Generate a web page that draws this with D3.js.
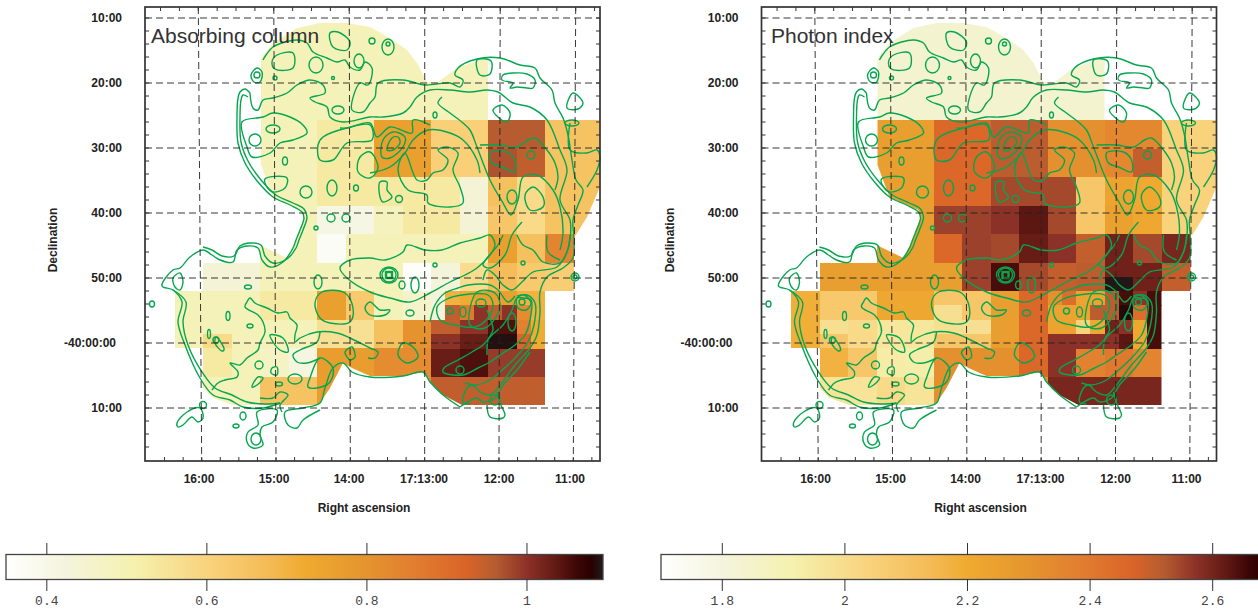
<!DOCTYPE html>
<html><head><meta charset="utf-8">
<script src="https://cdn.jsdelivr.net/npm/d3@7/dist/d3.min.js"></script>
<style>html,body{margin:0;padding:0;background:#fff}svg{display:block}</style>
</head><body>
<svg id="c" width="1258" height="610"></svg>
<script>
const n = null;
const panelTitles = ["Absorbing column", "Photon index"];
const raLabels = ["16:00","15:00","14:00","17:13:00","12:00","11:00"];
const raMinutes = [16,15,14,13,12,11];
const decLabels = ["10:00","20:00","30:00","40:00","50:00","-40:00:00","10:00"];
const decArcmin = [10,20,30,40,50,60,70];
const cbTicksA = [0.4,0.6,0.8,1];
const cbTicksB = [1.8,2,2.2,2.4,2.6];
const cmapFrac = [0,.1,.215,.34,.44,.5,.58,.68,.77,.82,.87,.92,.96,.98,1];
const cmapCol = ["#ffffff","#f4f4de","#f5f1ae","#f9d27c","#f4bb55","#f0aa30","#e69a2e","#e27f30","#da6428","#b55c30","#8f3328","#621a14","#3a0505","#2a0000","#201a1a"];

// coarse maps: 15 columns x 14 rows; a pair = upper and lower half of a cell
const absorbing = [
[n,n,n,.49,.49,.49,.49,.49,.49,.49,.49,n,n,n,n],
[n,n,n,.49,.49,.49,.49,.49,.49,.49,.49,n,n,n,n],
[n,n,n,.49,.49,.49,.49,.49,.49,.49,.49,n,n,n,n],
[n,n,n,.49,.49,.49,.49,.49,.49,.49,.49,n,n,n,n],
[n,n,n,.49,.49,.53,.53,.76,.76,.61,.61,.96,.96,.65,.65],
[n,n,n,.49,.49,.53,.53,.76,.76,.61,.61,.97,.95,.65,.65],
[n,n,n,.49,.49,.53,.53,.53,.53,.53,.44,.66,.58,.65,.65],
[n,n,n,.49,.49,.41,.41,.48,.53,.53,.44,.64,.58,.65,.65],
[n,n,n,.49,.49,.37,.49,.49,.49,.49,.49,.76,.66,.84,.65],
[n,.44,.44,.49,.49,.49,.49,.49,.36,.43,.57,.67,.63,.62,n],
[.49,.49,.49,.53,.53,.76,.63,.49,.46,n,n,n,n,n,n],
[.49,[.49,.58],.49,.49,.49,.56,.56,.66,.8,n,n,n,n,n,n],
[n,.53,.49,.47,.42,.77,.77,.82,.82,1.03,1.05,.99,.99,n,n],
[n,.49,.49,.65,.65,.77,.77,.82,.82,.95,.95,.95,.95,n,n]];
const photon = [
[n,n,n,1.83,1.83,1.83,1.83,1.83,1.83,1.83,1.83,n,n,n,n],
[n,n,n,1.83,1.83,1.83,1.83,1.83,1.83,1.83,1.83,n,n,n,n],
[n,n,n,1.83,1.83,1.83,1.83,1.83,1.83,1.83,1.83,n,n,n,n],
[n,n,n,1.83,1.83,1.83,1.83,1.83,1.83,1.83,1.83,n,n,n,n],
[n,n,n,2.24,2.24,2.44,2.44,2.49,2.49,2.3,2.3,2.33,2.33,2.03,2.03],
[n,n,n,2.24,2.24,2.44,2.44,2.49,2.49,2.3,2.3,2.33,2.48,2.03,2.03],
[n,n,n,2.24,2.24,2.44,2.44,2.52,2.52,2.52,2.08,2.22,2.19,2.03,2.03],
[n,n,n,2.24,2.24,2.53,2.53,2.55,2.6,2.52,2.08,2.23,2.2,2.03,2.03],
[n,n,n,2.24,2.24,2.44,2.53,2.52,2.59,2.55,2.48,2.58,2.52,2.57,n],
[n,2.24,2.24,2.24,2.24,2.24,2.53,2.62,2.52,2.48,2.49,[2.58,2.67],2.58,2.48,n],
[2.17,2.07,2.07,2.2,2.2,[2.08,1.98],2.08,2.24,2.44,n,n,n,n,n,n],
[2.17,[1.98,2.08],2.0,1.95,1.95,[1.98,2.08],[1.98,2.08],2.24,2.44,n,n,n,n,n,n],
[n,2.16,2.08,1.93,1.92,2.3,2.3,2.3,2.44,2.55,2.35,2.38,2.34,n,n],
[n,1.96,1.96,2.0,1.96,2.3,2.3,2.3,2.3,2.57,2.57,2.57,2.57,n,n]];
// finer binning near the bright southern knot: 8 columns x 4 rows
const absorbingFine = [
[.43,.7,.72,.76,.76,.76,.7,.7],
[.43,.95,.87,1.0,.95,1.0,.82,.7],
[.95,.95,1.0,1.0,1.05,1.05,.85,.72],
[1.0,1.0,1.03,1.03,1.09,1.09,.92,.72]];
const photonFine = [
[2.3,2.42,2.22,2.22,2.49,2.62,2.55,2.62],
[2.22,2.22,2.22,2.49,2.49,2.66,2.42,2.62],
[2.22,2.22,2.03,2.2,2.58,2.55,2.2,2.62],
[2.55,2.55,2.55,2.55,2.55,2.6,2.2,2.62]];

// sky footprint and radio contours in mosaic pixel coordinates
const footprint = [[261,58],[273,43],[297,28],[320,23],[347,23],[370,27],[390,38],[407,50],[417,63],[427,82],[438,82],[457,68],[480,60],[488,60],[488,120],[600,120],[600,187],[587,217],[574,238],[574,291],[545,291],[545,405],[462,405],[443,395],[430,382],[424,372],[403,376],[370,376],[352,368],[343,363],[330,388],[320,403],[315,405],[233,405],[213,398],[203,388],[203,348],[174.5,348],[174.5,291],[203,291],[203,262.5],[260,262.5],[260,245],[287,258],[296,240],[304,218],[302,210],[273,197],[261,165]];
const openContours = [
[[250,93],[245,89],[240,92],[238,98],[237,117],[238,143],[245,163],[258,182],[273,197],[290,205],[302,212],[304,218],[300,230],[296,240],[293,248],[283,262],[270,267],[262,260],[258,248],[247,246],[237,250],[233,262],[220,260],[212,255],[203,250],[190,257],[180,268],[173,270],[162,286],[173,290],[182,302],[178,322],[185,345],[200,378],[213,395],[230,400],[243,407],[263,408],[280,403]],
[[248,97],[243,95],[241,100],[240,117],[241,142],[248,161],[261,180],[276,195],[293,203],[304,209],[307,217],[303,230],[299,240],[296,248],[287,259],[273,263],[265,256],[261,245],[250,243],[240,246],[234,256],[222,256],[212,250],[203,247]],
[[173,290],[186,302],[183,322],[188,345],[202,372],[215,388],[232,395],[247,402],[265,404],[280,403]],
[[250,93],[253,108],[258,110],[263,100],[273,98],[287,93],[297,85],[310,80],[323,85],[325,93],[310,98],[315,102],[327,107],[330,117],[343,122],[370,117],[383,117],[403,113],[410,107],[417,97],[430,90],[450,90],[470,92],[487,90],[498,92],[513,103],[530,107],[547,120],[560,150],[567,170],[560,200],[570,220],[570,240],[567,252],[560,263],[543,262],[533,250],[523,245],[517,235]],
[[263,60],[266,55],[273,47],[285,42],[297,40],[307,43],[313,52],[327,58],[337,62],[345,60],[350,67],[360,70],[365,62],[372,68],[368,85],[360,83],[352,110],[363,112],[370,103],[375,97],[378,83],[403,80],[425,85],[450,83],[460,87],[463,80],[455,75],[458,68],[477,59],[500,58],[520,65],[535,68],[540,78],[552,90],[555,103],[563,118],[568,135],[572,160],[576,180],[583,190],[578,205],[573,220],[574,240],[573,258],[563,268],[547,277],[540,292],[540,312],[537,335],[530,348],[515,365],[500,385],[490,395],[480,392],[472,385],[467,388],[463,402],[470,404]],
[[442,97],[438,103],[450,113],[463,123],[470,130],[477,147],[490,180],[503,203],[511,215],[518,200],[523,177],[537,175],[553,190],[560,207],[563,233],[560,250]],
[[480,145],[500,145],[517,147],[528,140],[535,138],[547,150],[555,163],[558,177],[555,190]],
[[570,123],[570,150],[587,153],[597,150],[600,157],[597,170],[587,187]],
[[460,407],[443,395],[430,382],[423,372],[403,376],[370,377],[352,372],[343,363],[333,368],[325,388],[320,403],[303,408],[285,412],[288,425],[297,428],[303,420],[320,410]],
[[260,398],[273,398],[280,392],[288,395],[280,405],[282,412]],
[[460,407],[477,398],[483,402],[495,398],[503,385],[517,370],[530,352]],
[[497,392],[500,403],[505,415],[503,418],[490,417],[487,405]],
[[247,302],[250,298],[255,303],[267,308],[278,313],[287,312],[290,318],[297,325],[295,335],[295,342],[300,338],[317,332],[337,333],[350,338],[370,348],[378,352],[375,358],[368,358]],
[[247,302],[245,307],[258,315],[263,322],[265,332],[260,343],[258,350],[247,358],[240,365],[230,363],[238,372],[237,377],[225,380],[218,383],[212,390]],
[[320,332],[317,342],[300,350],[293,355],[297,362],[307,363],[320,358]],
[[503,235],[498,245],[483,265],[490,268],[505,255],[512,235],[522,222]],
[[547,235],[548,252],[560,260]],
[[523,298],[531,300],[530,320],[525,335],[515,345],[500,355],[490,362],[478,368],[463,375],[443,372],[444,368],[458,360],[472,352],[483,345],[492,335],[503,325],[512,310],[517,298],[523,298]],
[[517,296],[527,295],[535,303],[534,325],[528,342],[515,358],[500,372],[490,380],[475,385],[465,383]],
[[483,280],[487,270],[495,275],[503,285],[512,290],[522,282],[533,272],[557,267],[567,252],[570,235]],
[[430,322],[435,305],[445,293],[458,288],[468,285],[490,285],[498,290],[508,302],[515,296]],
[[487,355],[488,340],[493,330],[490,318],[487,310]],
[[340,128],[347,128],[370,123],[377,137],[390,127],[412,133],[413,120],[430,125]],
[[370,173],[390,167],[405,153],[413,140],[428,130],[450,133],[463,140],[477,160],[480,173]]
];
const closedContours = [
[[242,122],[263,117],[273,113],[290,117],[303,125],[307,133],[293,140],[280,143],[270,153],[252,157],[247,147]],
[[277,55],[293,53],[293,68],[275,69],[272,62]],
[[330,33],[338,32],[350,42],[347,50],[333,47]],
[[251,75],[257,68],[262,72],[260,82],[254,82]],
[[265,179],[287,178],[285,188],[273,192],[267,187]],
[[318,145],[323,137],[347,128],[370,125],[372,140],[347,143],[333,160],[320,160]],
[[358,172],[370,178],[378,168],[370,152],[360,157]],
[[382,157],[383,140],[393,132],[405,137],[403,147],[390,158]],
[[387,150],[392,138],[398,137],[400,143],[393,150]],
[[380,182],[387,182],[387,190],[392,197],[383,202],[380,197]],
[[408,190],[427,195],[428,203],[450,207],[463,203],[460,187],[453,170],[458,153],[447,147],[438,150],[448,160],[443,170],[433,173],[427,180],[417,180],[405,153],[398,170]],
[[490,153],[507,152],[515,160],[515,172],[502,167],[492,163]],
[[525,195],[533,187],[543,197],[543,207],[530,210]],
[[493,110],[502,105],[510,113],[507,122],[498,117]],
[[567,108],[573,93],[583,103],[578,109]],
[[503,75],[502,80],[513,83],[510,88],[517,87],[527,88],[533,88],[535,80],[527,74],[513,73]],
[[477,60],[491,61],[490,74],[480,75]],
[[173,278],[180,273],[183,282],[180,290],[175,287]],
[[216,337],[220,341],[224,350],[222,351],[215,343]],
[[270,335],[283,338],[288,352],[280,350],[273,342]],
[[320,358],[333,368],[330,382],[317,388],[308,387],[310,378]],
[[271,373],[272,368],[277,367],[277,375]],
[[252,387],[258,377],[263,378],[257,385]],
[[257,412],[277,410],[273,422],[262,427],[260,435],[263,445],[253,448],[247,442],[248,432],[258,425]],
[[177,423],[187,412],[200,408],[203,418],[198,422],[192,417],[183,425],[178,427]],
[[315,303],[322,292],[345,293],[353,308],[350,322],[330,323],[320,318]],
[[345,352],[352,347],[355,357],[350,360],[347,357]],
[[398,355],[403,343],[413,347],[418,357],[407,363]],
[[340,268],[350,260],[370,258],[385,260],[403,252],[407,245],[425,250],[442,250],[460,243],[480,238],[490,235],[495,245],[490,255],[477,268],[465,275],[450,282],[430,293],[410,302],[390,298],[370,292],[347,278]],
[[370,302],[380,310],[390,310],[385,315],[370,315],[365,308]],
[[437,307],[447,299],[462,295],[488,295],[493,305],[488,318],[475,327],[455,325],[440,320]],
[[517,298],[524,295],[531,303],[526,310],[518,308]],
[[477,292],[495,293],[500,308],[485,328],[470,325]]
];
// small isolated contours: centre x, centre y, half width, half height
const knots = [[255,140,6,6],[273,129,7,4],[316,65,7,8],[359,61,5,7],[257,75,3,3],[275,78,2,2],[333,78,1.5,1.5],[338,110,6,4],[285,161,2.5,4],[306,192,6,6],[332,188,5,8],[356,188,2.5,3],[331,218,4,4],[346,218,4,4],[316,228,2,2],
[372,41,3,3],[388,47,6,8],[388,44,2,2],[399,199,3.5,3.5],[435,115,2,3],[531,155,4,4],[512,197,5,7],[575,277,4,4],[575,277,2,2],[572,123,7,3],
[152,304,2.5,3],[248,287,3.5,2],[228,316,2,4.5],[250,326,3,2],[209,334,1.5,4.5],[216,340,3,3],[259,365,4,4],[279,384,3.5,2],[295,379,7,5],[256,439,5,6],[243,416,3,4],[236,426,3,2],[203,405,3.5,3.5],[318,282,4,7],
[435,265,2,2],[402,285,3,4],[415,285,4,8],[410,313,4,3],[450,311,3,3],[463,312,3,5],[481,303,5,4],[522,302,3,3],[512,322,4,9],[495,400,5,5],[523,263,2,2],[460,370,4,4],
[389,275,7,7],[389,275,9,8]];
const gridDash = "7 4";

const svg = d3.select("#c");
const cmap = d3.scaleLinear().domain(cmapFrac).range(cmapCol).interpolate(d3.interpolateRgb).clamp(true);
const frame = {l:145,t:7,r:600,b:461};
const lineOpen = d3.line().curve(d3.curveCatmullRom.alpha(.5));
const lineClosed = d3.line().curve(d3.curveCatmullRomClosed.alpha(.5));
const polygon = d3.line();

function drawPanel(i, dx, coarse, fine, vmin, vmax, titleX){
  const g = svg.append("g").attr("transform",`translate(${dx},0)`);
  const mx = d3.scaleLinear().domain([145,600]).range([145,600]);
  const my = d3.scaleLinear().domain([7,461]).range([7,461]);
  const colX = d3.scaleLinear().domain([0,15]).range([174.5,602]);
  const rowY = d3.scaleLinear().domain([0,14]).range([6,405]);
  const fineX = d3.scaleLinear().domain([0,8]).range([431,545]);
  const fineY = d3.scaleLinear().domain([0,4]).range([291,348]);
  const color = v => cmap((v-vmin)/(vmax-vmin));
  const cid = "fp"+i;
  g.append("clipPath").attr("id",cid).append("path")
    .attr("d",polygon.x(d=>mx(d[0])).y(d=>my(d[1]))(footprint)+"Z");
  const heat = g.append("g").attr("clip-path",`url(#${cid})`).attr("shape-rendering","crispEdges");
  const cells=[];
  coarse.forEach((row,r)=>row.forEach((v,c)=>{
    if(v===null) return;
    if(Array.isArray(v)){
      cells.push({x0:colX(c),x1:colX(c+1),y0:rowY(r),y1:rowY(r+.5),v:v[0]});
      cells.push({x0:colX(c),x1:colX(c+1),y0:rowY(r+.5),y1:rowY(r+1),v:v[1]});
    } else cells.push({x0:colX(c),x1:colX(c+1),y0:rowY(r),y1:rowY(r+1),v});
  }));
  fine.forEach((row,r)=>row.forEach((v,c)=>cells.push({x0:fineX(c),x1:fineX(c+1),y0:fineY(r),y1:fineY(r+1),v})));
  heat.selectAll("rect").data(cells).join("rect")
    .attr("x",d=>d.x0).attr("y",d=>d.y0).attr("width",d=>d.x1-d.x0+.5).attr("height",d=>d.y1-d.y0+.5)
    .attr("fill",d=>color(d.v));

  const cg = g.append("g").attr("fill","none").attr("stroke","#06a650").attr("stroke-width",1.4);
  cg.selectAll("path.o").data(openContours).join("path").attr("class","o")
    .attr("d",lineOpen.x(d=>mx(d[0])).y(d=>my(d[1])));
  cg.selectAll("path.c").data(closedContours).join("path").attr("class","c")
    .attr("d",lineClosed.x(d=>mx(d[0])).y(d=>my(d[1])));
  cg.selectAll("ellipse").data(knots).join("ellipse")
    .attr("cx",d=>mx(d[0])).attr("cy",d=>my(d[1])).attr("rx",d=>d[2]).attr("ry",d=>d[3]);
  cg.append("rect").attr("x",mx(386)).attr("y",my(272)).attr("width",6).attr("height",6).attr("stroke-width",2.4);

  // tilted right-ascension grid and flat declination grid
  const raTop = d3.scaleLinear().domain([16,11]).range([198.3,575.7]);
  const raBot = d3.scaleLinear().domain([16,11]).range([201.7,573.3]);
  const dec = d3.scaleLinear().domain([10,70]).range([18,408]);
  const gr = g.append("g").attr("stroke","#222").attr("stroke-width",.9).attr("stroke-dasharray",gridDash);
  gr.selectAll("line.v").data(raMinutes).join("line").attr("class","v")
    .attr("x1",raTop).attr("x2",raBot).attr("y1",frame.t).attr("y2",frame.b);
  gr.selectAll("line.h").data(decArcmin).join("line").attr("class","h")
    .attr("x1",frame.l).attr("x2",frame.r).attr("y1",dec).attr("y2",dec);

  // frame ticks every 15 s and every 2 arcmin
  const tk = g.append("g").attr("stroke","#333").attr("stroke-width",1);
  const minorRA = d3.range(17,10.2,-.25).filter(m=>raBot(m)>frame.l+2&&raBot(m)<frame.r-2);
  tk.selectAll("line.b").data(minorRA).join("line").attr("class","b")
    .attr("x1",raBot).attr("x2",raBot).attr("y1",frame.b).attr("y2",frame.b-4);
  tk.selectAll("line.t").data(minorRA).join("line").attr("class","t")
    .attr("x1",raTop).attr("x2",raTop).attr("y1",frame.t).attr("y2",frame.t+4);
  const minorDec = d3.range(10,78,2);
  tk.selectAll("line.l").data(minorDec).join("line").attr("class","l")
    .attr("x1",frame.l).attr("x2",frame.l+4).attr("y1",dec).attr("y2",dec);
  tk.selectAll("line.r").data(minorDec).join("line").attr("class","r")
    .attr("x1",frame.r).attr("x2",frame.r-4).attr("y1",dec).attr("y2",dec);
  g.append("rect").attr("x",frame.l).attr("y",frame.t).attr("width",frame.r-frame.l).attr("height",frame.b-frame.t)
    .attr("fill","none").attr("stroke","#333").attr("stroke-width",1.7);

  const bold = "700 12px 'Liberation Sans', Arial, sans-serif";
  const raLab = d3.scaleLinear().domain([16,12]).range([199,499]);
  g.append("g").selectAll("text").data(raLabels).join("text")
    .attr("x",(d,k)=>k===5?570:raLab(raMinutes[k])).attr("y",483).attr("text-anchor","middle")
    .style("font",bold).attr("fill","#222").text(d=>d);
  g.append("g").selectAll("text").data(decLabels).join("text")
    .attr("x",(d,k)=>k===5?116:122).attr("y",(d,k)=>dec(decArcmin[k])+4).attr("text-anchor","end")
    .style("font",bold).attr("fill","#222").text(d=>d);
  g.append("text").attr("x",364).attr("y",512).attr("text-anchor","middle")
    .style("font",bold).attr("fill","#222").text("Right ascension");
  g.append("text").attr("transform","translate(57,240) rotate(-90)").attr("text-anchor","middle")
    .style("font",bold).attr("fill","#222").text("Declination");
  g.append("text").attr("x",titleX).attr("y",43).style("font","400 21px 'Liberation Sans', Arial, sans-serif")
    .attr("fill","#333").text(panelTitles[i]);
}
drawPanel(0,0,absorbing,absorbingFine,.349,1.095,151);
drawPanel(1,616.5,photon,photonFine,1.7,2.673,154.5);

function drawBar(id,x0,x1,vmin,vmax,ticks,fmt){
  const s = d3.scaleLinear().domain([vmin,vmax]).range([x0,x1]);
  const g = svg.append("g");
  const grad = svg.append("linearGradient").attr("id",id);
  grad.selectAll("stop").data(cmapFrac).join("stop")
    .attr("offset",d=>d).attr("stop-color",(d,i)=>cmapCol[i]);
  g.append("rect").attr("x",x0).attr("y",554.5).attr("width",x1-x0).attr("height",25)
    .attr("fill",`url(#${id})`).attr("stroke","#444").attr("stroke-width",1.3);
  g.selectAll("line").data(ticks).join("line")
    .attr("x1",s).attr("x2",s).attr("y1",543).attr("y2",591).attr("stroke","#333").attr("stroke-width",1)
    .attr("stroke-dasharray","12 24 12");
  g.selectAll("text").data(ticks).join("text")
    .attr("x",s).attr("y",605).attr("text-anchor","middle")
    .style("font","400 13px 'Liberation Mono', monospace").attr("fill","#444").text(fmt);
}
const fmtBar = d => String(d);
drawBar("gA",6,603,.349,1.095,cbTicksA,fmtBar);
drawBar("gB",661,1274,1.7,2.7,cbTicksB,fmtBar);
</script>
</body></html>
